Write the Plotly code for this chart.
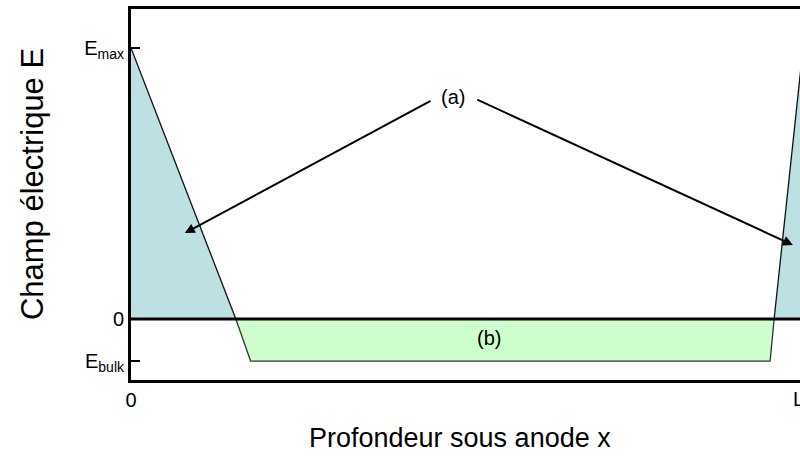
import plotly.graph_objects as go

# Electric field profile under the anode (depth normalised to L = 1, field to E_max = 1)
E_max = 1.0
E_bulk = -0.155
L = 1.0

x_left = [0.0, 0.156, 0.0]            # left depletion triangle (a)
E_left = [E_max, 0.0, 0.0]
x_bulk = [0.156, 0.178, 0.951, 0.957]  # bulk region (b)
E_bulk_pts = [0.0, E_bulk, E_bulk, 0.0]
x_right = [0.957, L, L]                # right depletion triangle (a)
E_right = [0.0, E_max, 0.0]

y_tickvals = [E_max, 0.0, E_bulk]
y_ticktext = ["E<sub>max</sub>", "0", "E<sub>bulk</sub>"]

blue = "#bde0e3"
green = "#ccffcc"
edge = "#111111"
font = "Liberation Sans, Arial, sans-serif"

fig = go.Figure()

fig.add_trace(go.Scatter(x=x_left, y=E_left, fill="toself", fillcolor=blue,
                         mode="none", hoverinfo="skip"))
fig.add_trace(go.Scatter(x=x_left[:2], y=E_left[:2], mode="lines",
                         line=dict(color=edge, width=1.3), hoverinfo="skip"))
fig.add_trace(go.Scatter(x=x_right, y=E_right, fill="toself", fillcolor=blue,
                         mode="none", hoverinfo="skip"))
fig.add_trace(go.Scatter(x=x_right[:2], y=E_right[:2], mode="lines",
                         line=dict(color=edge, width=1.3), hoverinfo="skip"))
fig.add_trace(go.Scatter(x=x_bulk, y=E_bulk_pts, fill="toself", fillcolor=green,
                         mode="lines", line=dict(color="#333333", width=1.3),
                         hoverinfo="skip"))

# zero-field line
fig.add_shape(type="line", xref="paper", yref="y", x0=0, x1=1, y0=0, y1=0,
              line=dict(color="black", width=3), layer="above")

# labels and arrows
arrow_src = [(0.448, 0.808), (0.513, 0.812)]
arrow_tip = [(0.080, 0.317), (0.985, 0.273)]
for (ax_, ay_), (x_, y_) in zip(arrow_src, arrow_tip):
    fig.add_annotation(x=x_, y=y_, ax=ax_, ay=ay_, xref="x", yref="y",
                       axref="x", ayref="y", text="", showarrow=True,
                       arrowhead=2, arrowsize=1.0, arrowwidth=2,
                       arrowcolor="black")
fig.add_annotation(x=0.479, y=0.82, xref="x", yref="y", text="(a)",
                   showarrow=False, font=dict(size=20, color="black", family=font))
fig.add_annotation(x=0.533, y=-0.07, xref="x", yref="y", text="(b)",
                   showarrow=False, font=dict(size=20, color="black", family=font))

# depth tick label at x = L, just past the right edge of the frame
fig.add_annotation(x=1.0085, y=0, xref="paper", yref="paper", yanchor="top",
                   yshift=-6, text="L", showarrow=False,
                   font=dict(size=20, color="black", family=font))

# axis titles
fig.add_annotation(x=-0.148, y=0.528, xref="paper", yref="paper",
                   xanchor="center", yanchor="middle",
                   text="Champ électrique E", showarrow=False, textangle=-90,
                   font=dict(size=31, color="black", family=font))
fig.add_annotation(x=0.492, y=-0.157, xref="paper", yref="paper",
                   xanchor="center", yanchor="middle",
                   text="Profondeur sous anode x",
                   showarrow=False, font=dict(size=27, color="black", family=font))

fig.update_layout(
    width=800, height=459,
    margin=dict(l=131, r=0, t=9, b=79),
    paper_bgcolor="white", plot_bgcolor="white",
    showlegend=False,
    font=dict(family=font, color="black", size=20),
    xaxis=dict(range=[0, 0.9955], showgrid=False, zeroline=False,
               showline=True, linecolor="black", linewidth=3, mirror=True,
               tickvals=[0.0], ticktext=["0"], ticks="", tickfont=dict(size=20)),
    yaxis=dict(range=[-0.225, 1.144], showgrid=False, zeroline=False,
               showline=True, linecolor="black", linewidth=3, mirror=False,
               tickvals=y_tickvals, ticktext=y_ticktext, ticks="inside",
               ticklen=9, tickwidth=2, tickcolor="black", tickfont=dict(size=20)),
)

fig.write_html("out.html")
